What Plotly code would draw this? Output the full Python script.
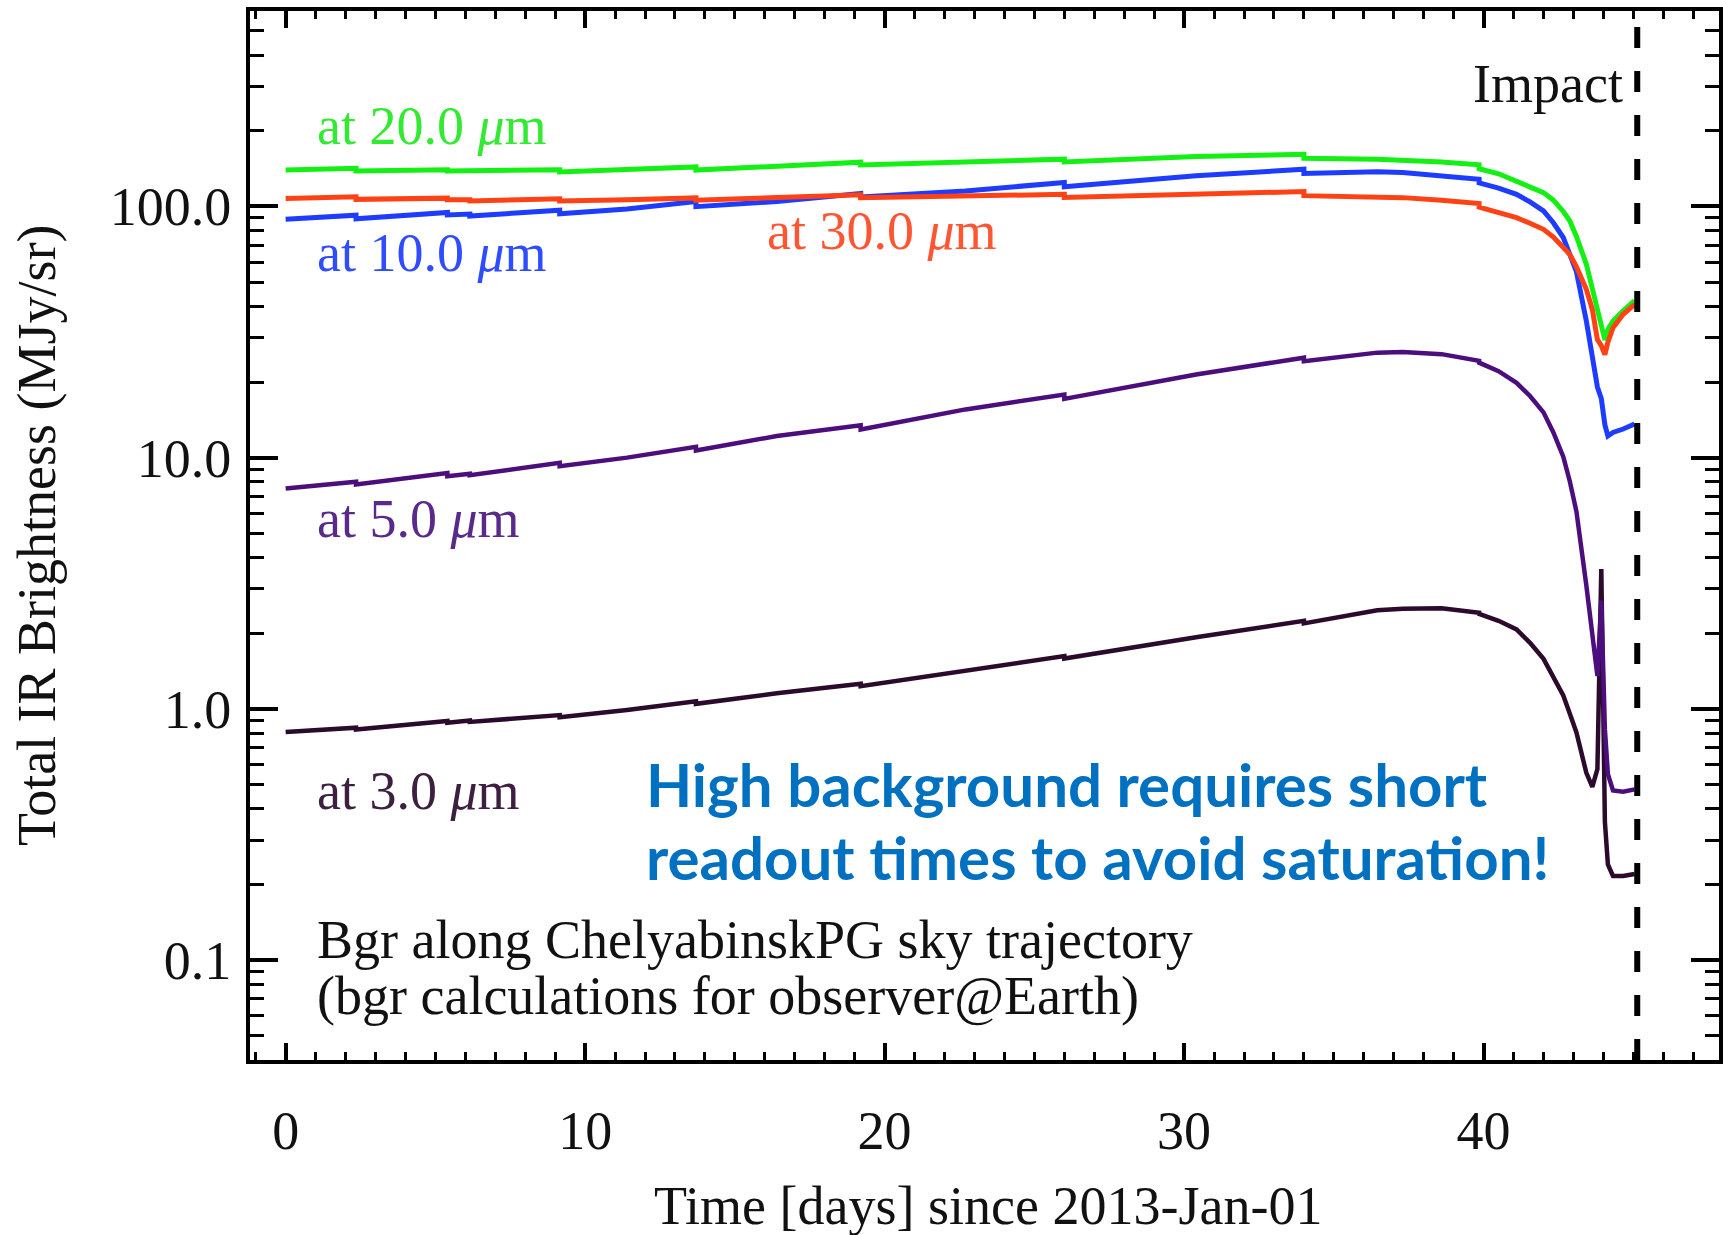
import plotly.graph_objects as go

# Time since 2013-Jan-01 [days]; repeated values mark the small steps in the model
days = [0.0, 2.35, 2.35, 5.4, 5.4, 6.15, 6.15, 9.15, 9.15, 11.4, 13.7, 13.7, 16.4,
        19.2, 19.2, 22.7, 26.0, 26.0, 30.4, 34.0, 34.0, 36.45, 37.3, 38.6, 39.85,
        39.85, 40.5, 41.1, 41.55, 42.0, 42.33, 42.66, 42.88, 43.1, 43.43, 43.63,
        43.8, 43.93, 44.05, 44.15, 44.32, 44.66, 45.04]

# Total IR background brightness [MJy/sr] at each wavelength
bgr_3um = [0.809, 0.841, 0.828, 0.895, 0.881, 0.899, 0.887, 0.944, 0.925, 0.989,
           1.072, 1.047, 1.153, 1.259, 1.230, 1.413, 1.622, 1.585, 1.928, 2.239,
           2.188, 2.466, 2.500, 2.512, 2.415, 2.388, 2.24, 2.070, 1.83, 1.581,
           1.35, 1.130, 0.955, 0.805, 0.556, 0.489, 0.575, 3.60, 0.355, 0.240,
           0.216, 0.216, 0.220]
bgr_5um = [7.53, 8.02, 7.82, 8.69, 8.43, 8.63, 8.51, 9.53, 9.25, 10.0,
           11.04, 10.67, 12.19, 13.46, 12.94, 15.56, 17.82, 17.14, 21.43, 25.0,
           24.21, 26.18, 26.36, 25.82, 24.27, 23.88, 22.1, 19.86, 17.6, 15.14,
           12.6, 10.09, 8.04, 6.10, 3.10, 1.90, 1.35, 2.70, 0.83, 0.55,
           0.473, 0.468, 0.478]
bgr_10um = [88.9, 92.3, 89.3, 94.6, 92.5, 93.3, 91.6, 96.6, 93.5, 97.7,
            104.7, 99.8, 104.7, 112.5, 109.1, 115.3, 124.5, 119.7, 132.4, 140.6,
            135.2, 137.4, 136.5, 132.4, 128.2, 124.2, 118.3, 111.7, 104.2, 95.9,
            86.1, 75.2, 64.6, 55.0, 35.0, 25.1, 19.1, 17.2, 13.5, 12.2,
            12.6, 13.0, 13.6]
bgr_20um = [139.6, 141.9, 138.4, 140.0, 138.4, 139.0, 137.7, 140.0, 137.1, 140.0,
            143.6, 139.6, 144.5, 150.0, 146.2, 150.7, 154.2, 150.3, 158.1, 161.4,
            155.6, 154.2, 152.8, 150.3, 146.6, 141.3, 134.9, 126.5, 120.2, 113.5,
            105.9, 95.5, 87.5, 75.9, 58.9, 47.3, 39.8, 34.7, 29.4, 32.4,
            35.0, 38.4, 42.2]
bgr_30um = [107.6, 109.2, 106.7, 107.9, 106.4, 106.4, 105.2, 107.2, 105.2, 106.4,
            108.1, 105.9, 108.6, 111.2, 108.4, 109.6, 111.7, 108.6, 112.5, 114.6,
            110.4, 109.6, 108.4, 105.9, 102.8, 99.3, 94.8, 90.2, 85.7, 81.1,
            75.5, 69.2, 64.4, 57.5, 46.8, 38.9, 29.5, 27.9, 25.7, 28.8,
            32.9, 37.2, 40.7]

impact_day = 45.13

x_tick_vals = [0, 10, 20, 30, 40]
y_tick_vals = [0.1, 1.0, 10.0, 100.0]
y_tick_text = ["0.1", "1.0", "10.0", "100.0"]

series = [
    ("3.0", bgr_3um, "#2b0a2b", "#3d2040", 4.5),
    ("5.0", bgr_5um, "#4c0e7c", "#5a2a8a", 4.5),
    ("10.0", bgr_10um, "#1e3cff", "#2f4cff", 5),
    ("20.0", bgr_20um, "#14f014", "#33ea33", 5),
    ("30.0", bgr_30um, "#ff4216", "#ff5533", 5),
]

SERIF = "Liberation Serif"

fig = go.Figure()
for name, vals, col, _, lw in series:
    fig.add_trace(go.Scatter(x=days, y=vals, mode="lines", name=f"{name} um",
                             line=dict(color=col, width=lw), hoverinfo="skip"))

# impact marker
fig.add_shape(type="line", xref="x", yref="paper", x0=impact_day, x1=impact_day,
              y0=0, y1=1, line=dict(color="black", width=6, dash="21px,23px"))

# wavelength labels: (wavelength, x [days], log10 y)
label_pos = {
    "20.0": (0.98, 2.3195),
    "10.0": (0.98, 1.816),
    "30.0": (15.99, 1.904),
    "5.0": (0.98, 0.756),
    "3.0": (0.98, -0.329),
}
for name, vals, _, tcol, _ in series:
    lx, ly = label_pos[name]
    fig.add_annotation(x=lx, y=ly, xref="x", yref="y", text=f"at {name} <i>\u03bc</i>m",
                       showarrow=False, xanchor="left", yanchor="middle",
                       font=dict(family=SERIF, size=54, color=tcol))

fig.add_annotation(x=impact_day - 0.41, y=2.489, xref="x", yref="y", text="Impact",
                   showarrow=False, xanchor="right", yanchor="middle",
                   font=dict(family=SERIF, size=54, color="#111111"))
fig.add_annotation(x=0.98, y=-0.921, xref="x", yref="y",
                   text="Bgr along ChelyabinskPG sky trajectory",
                   showarrow=False, xanchor="left", yanchor="middle",
                   font=dict(family=SERIF, size=54, color="#111111"))
fig.add_annotation(x=0.98, y=-1.144, xref="x", yref="y",
                   text="(bgr calculations for observer@Earth)",
                   showarrow=False, xanchor="left", yanchor="middle",
                   font=dict(family=SERIF, size=54, color="#111111"))
fig.add_annotation(x=11.97, y=-0.300, xref="x", yref="y",
                   text="<b>High background requires short</b>",
                   showarrow=False, xanchor="left", yanchor="middle",
                   font=dict(family="Lato", size=60, color="#0070c0"))
fig.add_annotation(x=11.97, y=-0.590, xref="x", yref="y",
                   text="<b>readout times to avoid saturation!</b>",
                   showarrow=False, xanchor="left", yanchor="middle",
                   font=dict(family="Lato", size=60, color="#0070c0"))

# axis titles
fig.add_annotation(x=(36 - 250) / 1473, y=0.5, xref="paper", yref="paper",
                   text="Total IR Brightness (MJy/sr)", textangle=-90, showarrow=False,
                   xanchor="center", yanchor="middle",
                   font=dict(family=SERIF, size=54, color="#111111"))
fig.add_annotation(x=(990 - 250) / 1473, y=(1060.5 - 1206.6) / 1049.5,
                   xref="paper", yref="paper",
                   text="Time [days] since 2013-Jan-01", showarrow=False,
                   xanchor="center", yanchor="middle",
                   font=dict(family=SERIF, size=54, color="#111111"))

y_minor = [m * 10.0 ** e for e in range(-2, 3) for m in range(2, 10)]

fig.update_xaxes(range=[-1.19, 47.86], tickmode="array", tickvals=x_tick_vals,
                 ticks="inside", ticklen=17, tickwidth=3.5, tickcolor="black",
                 showline=True, linewidth=4, linecolor="black", mirror="allticks",
                 showgrid=False, zeroline=False, ticklabelstandoff=20,
                 tickfont=dict(family=SERIF, size=54, color="#111111"),
                 minor=dict(tickmode="linear", tick0=0, dtick=1, ticks="inside",
                            ticklen=8, tickwidth=3, tickcolor="black", showgrid=False))
fig.update_yaxes(type="log", range=[-1.398, 2.778], tickmode="array",
                 tickvals=y_tick_vals, ticktext=y_tick_text,
                 ticks="inside", ticklen=28, tickwidth=3.5, tickcolor="black",
                 showline=True, linewidth=4, linecolor="black", mirror="allticks",
                 showgrid=False, zeroline=False, ticklabelstandoff=4,
                 tickfont=dict(family=SERIF, size=54, color="#111111"),
                 minor=dict(tickmode="array", tickvals=y_minor, ticks="inside",
                            ticklen=14, tickwidth=3, tickcolor="black", showgrid=False))

fig.update_layout(width=1723, height=1235,
                  margin=dict(l=250, r=0, t=11, b=175),
                  plot_bgcolor="white", paper_bgcolor="white",
                  showlegend=False,
                  font=dict(family=SERIF, size=54, color="#111111"))

fig.write_html("out.html")
